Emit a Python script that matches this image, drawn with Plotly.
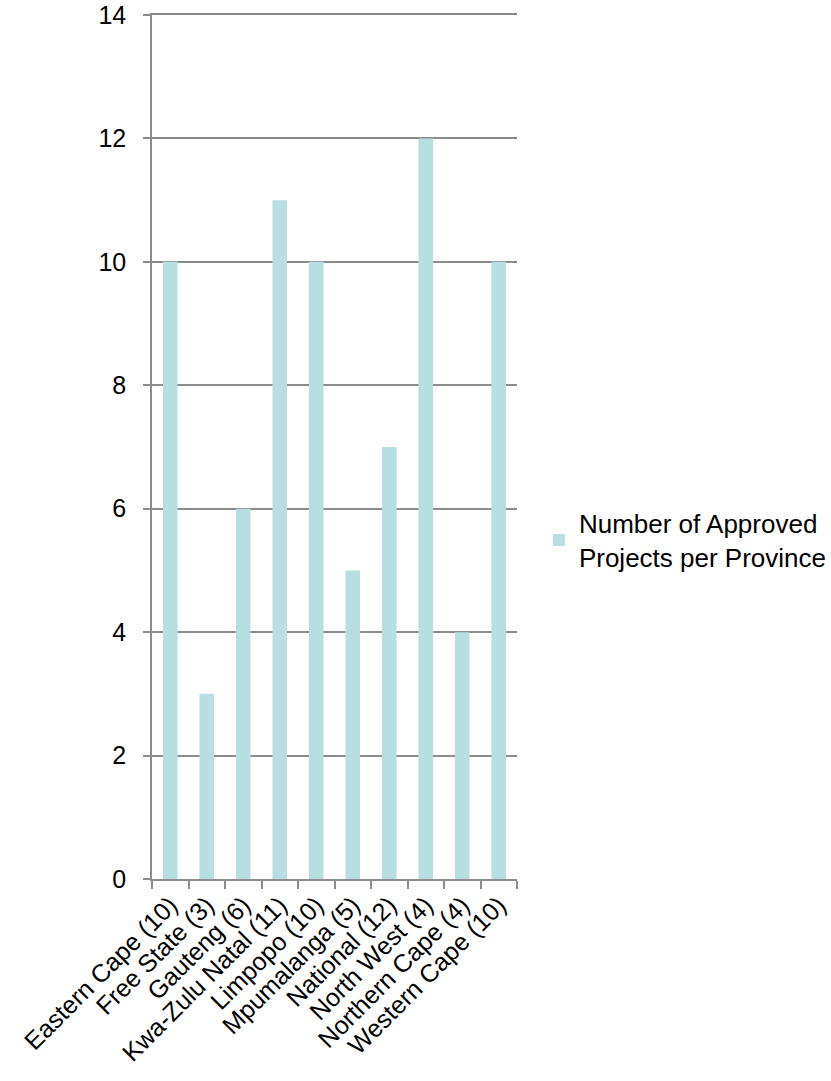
import plotly.graph_objects as go

# Approved projects by province
provinces = [
    "Eastern Cape (10)", "Free State (3)", "Gauteng (6)", "Kwa-Zulu Natal (11)",
    "Limpopo (10)", "Mpumalanga (5)", "National (12)", "North West (4)",
    "Northern Cape (4)", "Western Cape (10)",
]
approved = [10, 3, 6, 11, 10, 5, 7, 12, 4, 10]
y_ticks = [0, 2, 4, 6, 8, 10, 12, 14]

bar_color = "#B7DFE2"
grid_color = "#8C8C8C"
family = "Liberation Sans, Arial, sans-serif"
font = dict(family=family, size=25, color="#000000")
legend_font = dict(family=family, size=26, color="#000000")

fig = go.Figure(
    go.Bar(
        x=provinces,
        y=approved,
        name="Number of Approved<br>Projects per Province",
        marker=dict(color=bar_color, line=dict(width=0)),
        showlegend=True,
    )
)

fig.update_layout(
    width=831,
    height=1081,
    margin=dict(l=152, r=314, t=15, b=202, autoexpand=False),
    paper_bgcolor="white",
    plot_bgcolor="white",
    font=font,
    bargap=0.6,
    legend=dict(
        x=1.06,
        xanchor="left",
        y=0.392,
        yanchor="middle",
        font=legend_font,
        itemwidth=30,
        tracegroupgap=0,
    ),
    xaxis=dict(
        type="category",
        automargin=False,
        tickangle=-45,
        ticks="outside",
        tickson="boundaries",
        ticklen=8,
        tickcolor=grid_color,
        tickwidth=1.5,
        showline=True,
        mirror=True,
        linecolor=grid_color,
        linewidth=1.5,
        showgrid=False,
        tickfont=font,
    ),
    yaxis=dict(
        automargin=False,
        range=[0, 14],
        tickvals=y_ticks,
        ticks="outside",
        ticklen=7,
        tickcolor=grid_color,
        tickwidth=1.5,
        showline=True,
        linecolor=grid_color,
        linewidth=1.5,
        showgrid=True,
        gridcolor=grid_color,
        gridwidth=1.5,
        zeroline=False,
        tickfont=font,
        ticklabelstandoff=12,
    ),
)

fig.write_html("out.html")
